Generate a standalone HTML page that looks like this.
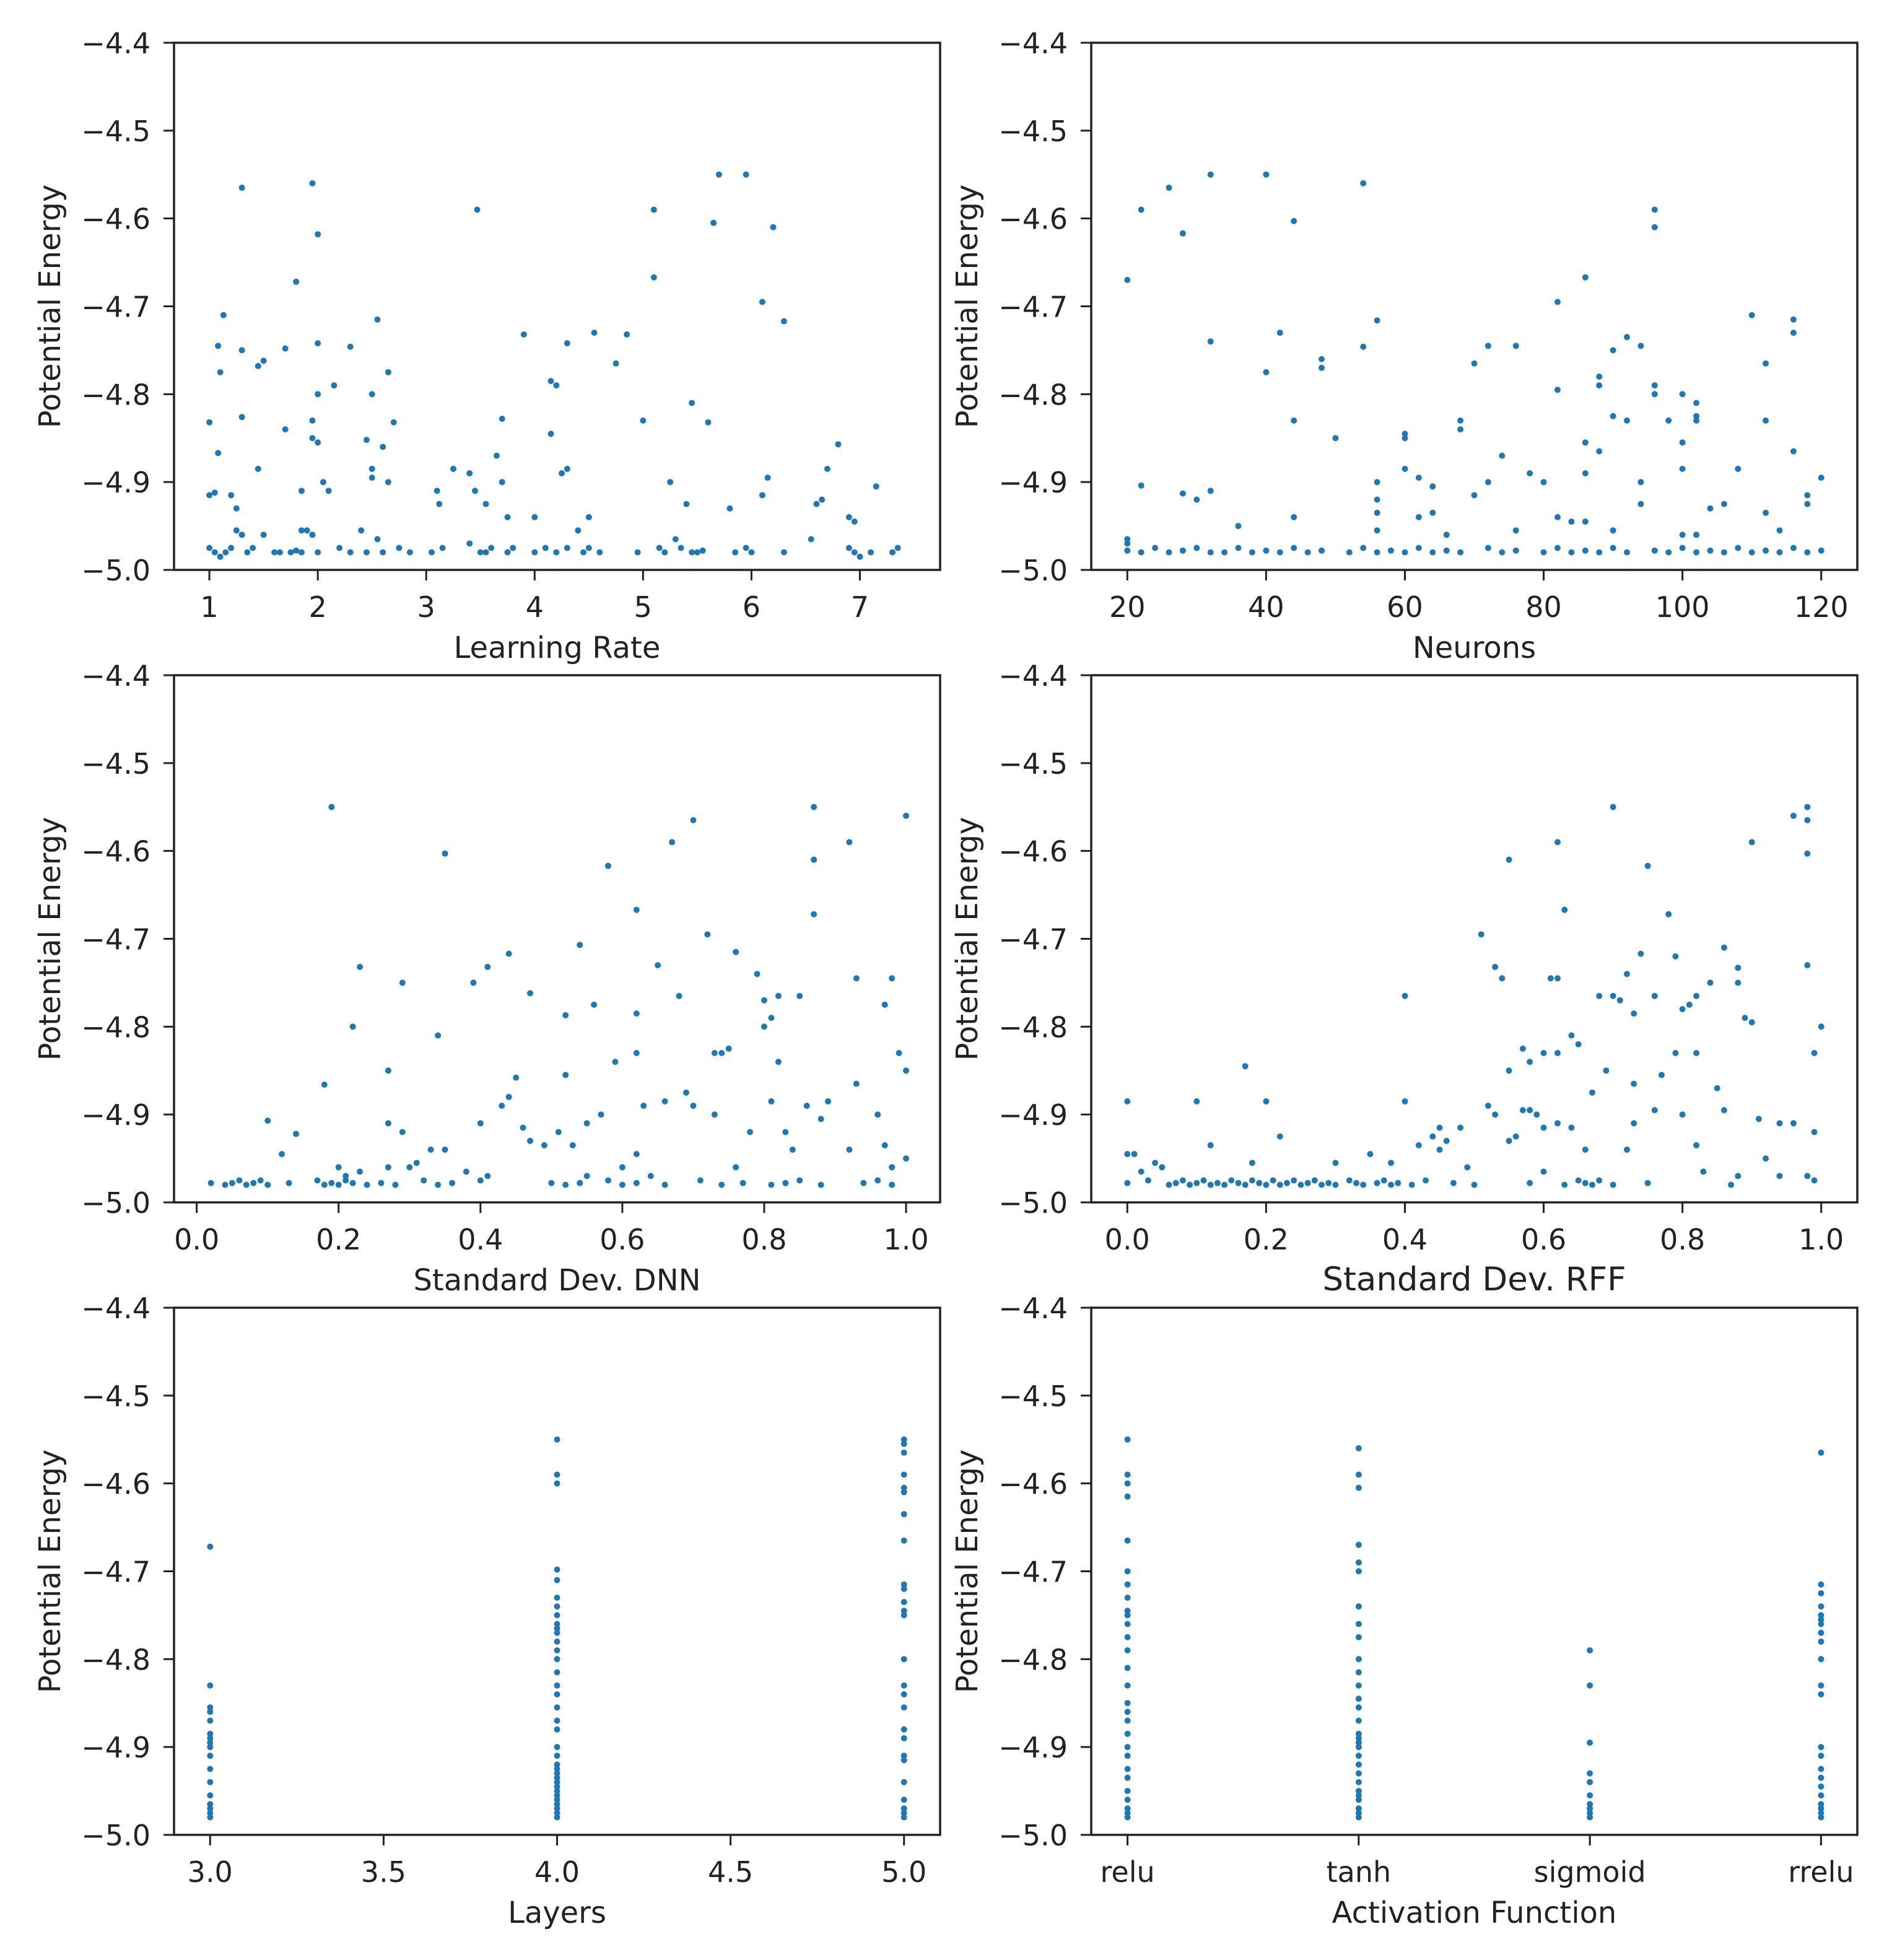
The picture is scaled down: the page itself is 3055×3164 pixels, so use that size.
<!DOCTYPE html>
<html><head><meta charset="utf-8"><title>Potential Energy vs hyperparameters</title>
<style>
html,body{margin:0;padding:0;background:#fff;}
svg{display:block;font-family:"DejaVu Sans","Liberation Sans",sans-serif;}
</style></head>
<body>
<svg id="fig" width="3055" height="3164" viewBox="0 0 3055 3164" xmlns="http://www.w3.org/2000/svg">
<rect width="3055" height="3164" fill="#fff"/>
</svg>
<script>
// ---- shared y axis ----
const yTicks = [-4.4, -4.5, -4.6, -4.7, -4.8, -4.9, -5.0];
const yTickLabels = ["\u22124.4", "\u22124.5", "\u22124.6", "\u22124.7", "\u22124.8", "\u22124.9", "\u22125.0"];

// ---- panel 1: learning rate ----
const lrTicks = [1, 2, 3, 4, 5, 6, 7];
const lrTickLabels = ["1", "2", "3", "4", "5", "6", "7"];
const lrPoints = [[1.3,-4.565],[1.95,-4.56],[2.0,-4.618],[3.47,-4.59],[5.1,-4.59],[5.7,-4.55],[5.95,-4.55],[5.65,-4.605],[6.2,-4.61],[5.1,-4.667],[1.8,-4.672],[6.1,-4.695],[6.3,-4.717],[2.55,-4.715],[1.13,-4.71],[1.08,-4.745],[1.3,-4.75],[1.45,-4.768],[1.5,-4.762],[1.7,-4.748],[2.0,-4.742],[2.3,-4.746],[2.15,-4.79],[1.1,-4.775],[2.65,-4.775],[2.5,-4.8],[2.0,-4.8],[3.9,-4.732],[4.3,-4.742],[4.55,-4.73],[4.85,-4.732],[4.75,-4.765],[4.15,-4.785],[4.2,-4.79],[1.0,-4.832],[1.3,-4.826],[1.7,-4.84],[1.95,-4.83],[1.95,-4.85],[2.0,-4.855],[2.6,-4.86],[2.7,-4.832],[3.7,-4.828],[4.15,-4.845],[5.0,-4.83],[5.45,-4.81],[5.6,-4.832],[1.08,-4.867],[2.45,-4.852],[3.65,-4.87],[4.3,-4.885],[4.25,-4.89],[6.8,-4.857],[6.7,-4.885],[1.0,-4.915],[1.05,-4.912],[1.2,-4.915],[1.25,-4.93],[1.45,-4.885],[1.85,-4.91],[2.05,-4.9],[2.1,-4.91],[2.5,-4.885],[2.5,-4.895],[2.65,-4.9],[3.1,-4.91],[3.12,-4.925],[3.25,-4.885],[3.4,-4.89],[3.45,-4.91],[3.55,-4.925],[3.7,-4.9],[3.75,-4.94],[4.0,-4.94],[4.5,-4.94],[5.25,-4.9],[5.4,-4.925],[5.8,-4.93],[6.1,-4.915],[6.15,-4.895],[6.6,-4.925],[6.65,-4.92],[6.9,-4.94],[6.95,-4.945],[7.15,-4.905],[1.25,-4.955],[1.3,-4.96],[1.5,-4.96],[1.85,-4.955],[1.9,-4.955],[1.95,-4.96],[2.4,-4.955],[2.55,-4.965],[4.4,-4.955],[5.3,-4.965],[6.55,-4.965],
[1.0,-4.975],[1.05,-4.98],[1.1,-4.985],[1.15,-4.98],[1.2,-4.975],[1.35,-4.98],[1.4,-4.975],[1.6,-4.98],[1.65,-4.98],[1.75,-4.98],[1.8,-4.978],[1.85,-4.98],[2.0,-4.98],[2.2,-4.975],[2.3,-4.98],[2.45,-4.98],[2.6,-4.98],[2.75,-4.975],[2.85,-4.98],[3.05,-4.98],[3.15,-4.975],[3.4,-4.97],[3.5,-4.98],[3.55,-4.98],[3.6,-4.975],[3.75,-4.98],[3.8,-4.975],[4.0,-4.98],[4.1,-4.975],[4.2,-4.98],[4.3,-4.975],[4.45,-4.98],[4.5,-4.975],[4.6,-4.98],[4.95,-4.98],[5.15,-4.975],[5.2,-4.98],[5.35,-4.975],[5.45,-4.98],[5.5,-4.98],[5.55,-4.978],[5.85,-4.98],[5.95,-4.975],[6.0,-4.98],[6.3,-4.98],[6.9,-4.975],[6.95,-4.98],[7.0,-4.985],[7.1,-4.98],[7.3,-4.98],[7.35,-4.975]];

// ---- panel 2: neurons ----
const nTicks = [20, 40, 60, 80, 100, 120];
const nTickLabels = ["20", "40", "60", "80", "100", "120"];
const nPoints = [[22,-4.59],[20,-4.67],[26,-4.565],[28,-4.617],[32,-4.55],[40,-4.55],[44,-4.603],[54,-4.56],[32,-4.74],[40,-4.775],[42,-4.73],[44,-4.83],[48,-4.76],[48,-4.77],[54,-4.746],[56,-4.716],[50,-4.85],[22,-4.904],[28,-4.913],[30,-4.92],[32,-4.91],[36,-4.95],[44,-4.94],[56,-4.9],[56,-4.92],[56,-4.935],[56,-4.955],[60,-4.845],[60,-4.85],[60,-4.885],[62,-4.895],[62,-4.94],[64,-4.905],[66,-4.96],[68,-4.83],[68,-4.84],[70,-4.915],[70,-4.765],[72,-4.745],[72,-4.9],[74,-4.87],[76,-4.745],[78,-4.89],[80,-4.9],[82,-4.695],[82,-4.795],[82,-4.94],[84,-4.945],[86,-4.667],[86,-4.855],[86,-4.89],[86,-4.945],[88,-4.78],[88,-4.79],[88,-4.865],[90,-4.75],[90,-4.825],[90,-4.955],[92,-4.735],[92,-4.83],[94,-4.745],[94,-4.9],[94,-4.925],[96,-4.59],[96,-4.61],[96,-4.79],[96,-4.8],[98,-4.83],[100,-4.8],[100,-4.855],[100,-4.885],[102,-4.81],[102,-4.825],[102,-4.83],[104,-4.93],[106,-4.925],[108,-4.885],[110,-4.71],[112,-4.765],[112,-4.83],[112,-4.935],[114,-4.955],[116,-4.715],[116,-4.73],[116,-4.865],[118,-4.915],[118,-4.925],[120,-4.895],[102,-4.96],[100,-4.96],[76,-4.955],[64,-4.935],[20,-4.965],[20,-4.97],
[20,-4.978],[22,-4.98],[24,-4.975],[26,-4.98],[28,-4.978],[30,-4.975],[32,-4.98],[34,-4.98],[36,-4.975],[38,-4.98],[40,-4.978],[42,-4.98],[44,-4.975],[46,-4.98],[48,-4.978],[52,-4.98],[54,-4.975],[56,-4.98],[58,-4.978],[60,-4.98],[62,-4.975],[64,-4.98],[66,-4.978],[68,-4.98],[72,-4.975],[74,-4.98],[76,-4.978],[80,-4.98],[82,-4.975],[84,-4.98],[86,-4.978],[88,-4.98],[90,-4.975],[92,-4.98],[96,-4.978],[98,-4.98],[100,-4.975],[102,-4.98],[104,-4.978],[106,-4.98],[108,-4.975],[110,-4.98],[112,-4.978],[114,-4.98],[116,-4.975],[118,-4.98],[120,-4.978]];

// ---- panel 3: std dev DNN ----
const sdTicks = [0.0, 0.2, 0.4, 0.6, 0.8, 1.0];
const sdTickLabels = ["0.0", "0.2", "0.4", "0.6", "0.8", "1.0"];
const dnnPoints = [[0.19,-4.55],[0.35,-4.603],[0.58,-4.617],[0.67,-4.59],[0.7,-4.565],[0.87,-4.55],[0.87,-4.61],[0.87,-4.672],[0.92,-4.59],[1.0,-4.56],[0.72,-4.695],[0.62,-4.667],[0.54,-4.707],[0.23,-4.732],[0.29,-4.75],[0.39,-4.75],[0.41,-4.732],[0.44,-4.717],[0.47,-4.762],[0.52,-4.787],[0.56,-4.775],[0.62,-4.785],[0.65,-4.73],[0.68,-4.765],[0.76,-4.715],[0.79,-4.74],[0.8,-4.77],[0.82,-4.765],[0.85,-4.765],[0.93,-4.745],[0.97,-4.775],[0.98,-4.745],[0.22,-4.8],[0.34,-4.81],[0.27,-4.85],[0.18,-4.866],[0.52,-4.855],[0.45,-4.858],[0.59,-4.84],[0.62,-4.83],[0.69,-4.875],[0.73,-4.83],[0.74,-4.83],[0.75,-4.825],[0.8,-4.8],[0.81,-4.79],[0.82,-4.84],[0.93,-4.865],[0.99,-4.83],[1.0,-4.85],[0.1,-4.907],[0.14,-4.922],[0.12,-4.945],[0.27,-4.91],[0.29,-4.92],[0.31,-4.955],[0.33,-4.94],[0.35,-4.94],[0.4,-4.91],[0.43,-4.89],[0.44,-4.88],[0.46,-4.915],[0.47,-4.93],[0.49,-4.935],[0.51,-4.92],[0.53,-4.935],[0.55,-4.91],[0.57,-4.9],[0.6,-4.96],[0.62,-4.945],[0.63,-4.89],[0.66,-4.885],[0.7,-4.89],[0.73,-4.9],[0.76,-4.96],[0.78,-4.92],[0.81,-4.885],[0.83,-4.92],[0.84,-4.94],[0.86,-4.89],[0.88,-4.905],[0.89,-4.885],[0.92,-4.94],[0.96,-4.9],[0.97,-4.935],[0.98,-4.96],[1.0,-4.95],[0.2,-4.96],[0.21,-4.97],[0.23,-4.965],[0.27,-4.96],[0.3,-4.96],[0.38,-4.965],[0.41,-4.97],[0.55,-4.97],[0.64,-4.97],
[0.02,-4.978],[0.04,-4.98],[0.05,-4.978],[0.06,-4.975],[0.07,-4.98],[0.08,-4.978],[0.09,-4.975],[0.1,-4.98],[0.13,-4.978],[0.17,-4.975],[0.18,-4.98],[0.19,-4.978],[0.2,-4.98],[0.21,-4.975],[0.22,-4.978],[0.24,-4.98],[0.26,-4.978],[0.28,-4.98],[0.32,-4.975],[0.34,-4.98],[0.36,-4.978],[0.4,-4.975],[0.5,-4.978],[0.52,-4.98],[0.54,-4.978],[0.58,-4.975],[0.6,-4.98],[0.62,-4.978],[0.66,-4.98],[0.71,-4.975],[0.74,-4.98],[0.77,-4.978],[0.81,-4.98],[0.83,-4.978],[0.85,-4.975],[0.88,-4.98],[0.94,-4.978],[0.96,-4.975],[0.98,-4.98]];

// ---- panel 4: std dev RFF ----
const rffPoints = [[0.7,-4.55],[0.98,-4.55],[0.96,-4.56],[0.98,-4.565],[0.98,-4.603],[0.55,-4.61],[0.62,-4.59],[0.75,-4.617],[0.9,-4.59],[0.63,-4.667],[0.78,-4.672],[0.51,-4.695],[0.86,-4.71],[0.88,-4.733],[0.98,-4.73],[0.53,-4.732],[0.54,-4.745],[0.61,-4.745],[0.62,-4.745],[0.72,-4.74],[0.74,-4.717],[0.68,-4.765],[0.7,-4.765],[0.71,-4.77],[0.73,-4.785],[0.76,-4.765],[0.79,-4.72],[0.8,-4.78],[0.81,-4.775],[0.82,-4.765],[0.84,-4.75],[0.88,-4.75],[0.89,-4.79],[0.9,-4.795],[0.4,-4.765],[1.0,-4.8],[0.99,-4.83],[0.17,-4.845],[0.45,-4.915],[0.55,-4.85],[0.57,-4.825],[0.58,-4.84],[0.6,-4.83],[0.62,-4.83],[0.64,-4.81],[0.65,-4.82],[0.67,-4.875],[0.69,-4.85],[0.73,-4.865],[0.77,-4.855],[0.79,-4.83],[0.82,-4.83],[0.85,-4.87],[0.76,-4.895],[0.8,-4.9],[0.82,-4.935],[0.86,-4.895],[0.91,-4.905],[0.94,-4.91],[0.96,-4.91],[0.99,-4.92],[0.0,-4.885],[0.1,-4.885],[0.2,-4.885],[0.0,-4.945],[0.01,-4.945],[0.12,-4.935],[0.18,-4.955],[0.22,-4.925],[0.3,-4.955],[0.35,-4.945],[0.38,-4.955],[0.4,-4.885],[0.42,-4.935],[0.44,-4.925],[0.45,-4.94],[0.46,-4.93],[0.48,-4.915],[0.49,-4.96],[0.52,-4.89],[0.53,-4.9],[0.55,-4.93],[0.56,-4.925],[0.57,-4.895],[0.58,-4.895],[0.59,-4.9],[0.6,-4.915],[0.6,-4.965],[0.62,-4.91],[0.64,-4.915],[0.65,-4.975],[0.66,-4.94],[0.72,-4.94],[0.73,-4.91],[0.83,-4.965],[0.88,-4.97],[0.92,-4.95],[0.94,-4.97],[0.98,-4.97],[0.02,-4.965],[0.04,-4.955],[0.05,-4.96],
[0.0,-4.978],[0.03,-4.975],[0.06,-4.98],[0.07,-4.978],[0.08,-4.975],[0.09,-4.98],[0.1,-4.978],[0.11,-4.975],[0.12,-4.98],[0.13,-4.978],[0.14,-4.98],[0.15,-4.975],[0.16,-4.978],[0.17,-4.98],[0.18,-4.975],[0.19,-4.978],[0.2,-4.98],[0.21,-4.975],[0.22,-4.98],[0.23,-4.978],[0.24,-4.975],[0.25,-4.98],[0.26,-4.978],[0.27,-4.975],[0.28,-4.98],[0.29,-4.978],[0.3,-4.98],[0.32,-4.975],[0.33,-4.978],[0.34,-4.98],[0.36,-4.978],[0.37,-4.975],[0.38,-4.98],[0.39,-4.978],[0.41,-4.98],[0.43,-4.975],[0.47,-4.978],[0.5,-4.98],[0.58,-4.978],[0.63,-4.98],[0.66,-4.978],[0.67,-4.98],[0.68,-4.975],[0.7,-4.98],[0.75,-4.978],[0.87,-4.98],[0.99,-4.975]];

// ---- panel 5: layers ----
const layerTicks = [3.0, 3.5, 4.0, 4.5, 5.0];
const layerTickLabels = ["3.0", "3.5", "4.0", "4.5", "5.0"];
const layers3 = [-4.672,-4.83,-4.855,-4.86,-4.87,-4.885,-4.89,-4.895,-4.9,-4.91,-4.925,-4.94,-4.955,-4.965,-4.97,-4.975,-4.98];
const layers4 = [-4.55,-4.59,-4.6,-4.698,-4.71,-4.73,-4.74,-4.75,-4.76,-4.765,-4.77,-4.78,-4.79,-4.8,-4.815,-4.83,-4.84,-4.855,-4.87,-4.88,-4.9,-4.91,-4.92,-4.925,-4.93,-4.935,-4.94,-4.945,-4.95,-4.955,-4.96,-4.965,-4.97,-4.975,-4.98];
const layers5 = [-4.55,-4.555,-4.565,-4.59,-4.605,-4.61,-4.635,-4.665,-4.715,-4.72,-4.735,-4.745,-4.75,-4.8,-4.83,-4.84,-4.855,-4.88,-4.89,-4.91,-4.915,-4.94,-4.96,-4.97,-4.975,-4.98];

// ---- panel 6: activation ----
const actCategories = ["relu", "tanh", "sigmoid", "rrelu"];
const actRelu = [-4.55,-4.59,-4.6,-4.615,-4.665,-4.7,-4.715,-4.73,-4.745,-4.75,-4.76,-4.775,-4.79,-4.81,-4.83,-4.85,-4.86,-4.87,-4.885,-4.9,-4.91,-4.925,-4.935,-4.95,-4.96,-4.97,-4.975,-4.98];
const actTanh = [-4.56,-4.59,-4.605,-4.67,-4.69,-4.7,-4.74,-4.76,-4.775,-4.8,-4.815,-4.83,-4.845,-4.855,-4.87,-4.885,-4.89,-4.895,-4.9,-4.91,-4.92,-4.93,-4.94,-4.95,-4.955,-4.96,-4.97,-4.975,-4.98];
const actSigmoid = [-4.79,-4.83,-4.895,-4.93,-4.94,-4.955,-4.965,-4.97,-4.975,-4.98];
const actRrelu = [-4.565,-4.715,-4.725,-4.74,-4.75,-4.755,-4.76,-4.77,-4.78,-4.8,-4.83,-4.84,-4.9,-4.91,-4.925,-4.935,-4.945,-4.955,-4.965,-4.97,-4.975,-4.98];

const NS = "http://www.w3.org/2000/svg";
const fig = document.getElementById("fig");
function mk(tag, attrs, parent) {
  const e = document.createElementNS(NS, tag);
  for (const k in attrs) e.setAttribute(k, attrs[k]);
  (parent || fig).appendChild(e);
  return e;
}

function panel(cfg) {
  const g = mk("g", {});
  
  
  const L = cfg.left, T = cfg.top, W = cfg.w, H = cfg.h;
  const sx = v => L + (v - cfg.xmin) / (cfg.xmax - cfg.xmin) * W;
  const sy = v => T + (-4.4 - v) / 0.6 * H;
  const pg = mk("g", {}, g);
  
  
  cfg.points.forEach(p => {
    const c = mk("circle", {cx: sx(p[0]).toFixed(1), cy: sy(p[1]).toFixed(1), r: 5, fill: "#1f77b4"}, pg);
    
    
  });
  const fr = mk("rect", {x: L, y: T, width: W, height: H, fill: "none", stroke: "#222", "stroke-width": 3.5}, g);
  
  
  yTicks.forEach((v, i) => {
    const y = sy(v);
    const t = mk("line", {x1: L - 17, x2: L, y1: y, y2: y, stroke: "#222", "stroke-width": 3}, g);
    
    
    const tx = mk("text", {x: L - 38, y: y + 17, "text-anchor": "end", "font-size": 46, fill: "#222"}, g);
    tx.textContent = yTickLabels[i];
    
    
  });
  cfg.xticks.forEach((v, i) => {
    const x = sx(v);
    const t = mk("line", {x1: x, x2: x, y1: T + H, y2: T + H + 17, stroke: "#222", "stroke-width": 3}, g);
    
    
    const tx = mk("text", {x: x, y: T + H + 76, "text-anchor": "middle", "font-size": 46, fill: "#222"}, g);
    tx.textContent = cfg.xlabels[i];
    
    
  });
  const xl = mk("text", {x: L + W / 2, y: T + H + 142, "text-anchor": "middle", "font-size": cfg.xfs || 48, fill: "#222"}, g);
  xl.textContent = cfg.xtitle;
  
  
  const yc = T + H / 2, xc = L - 184;
  const yl = mk("text", {x: xc, y: yc, "text-anchor": "middle", "font-size": 48, fill: "#222", transform: `rotate(-90 ${xc} ${yc})`}, g);
  yl.textContent = "Potential Energy";
  
  
}

const colL = 281, colR = 1762, PW = 1237, PH = 851;
const rows = [69, 1090, 2111];

function stack(xv, arr) { return arr.map(v => [xv, v]); }

panel({name: "learning-rate-panel", left: colL, top: rows[0], w: PW, h: PH, xmin: 0.674, xmax: 7.74,
  xticks: lrTicks, xlabels: lrTickLabels, xtitle: "Learning Rate", points: lrPoints});
panel({name: "neurons-panel", left: colR, top: rows[0], w: PW, h: PH, xmin: 14.8, xmax: 125.2,
  xticks: nTicks, xlabels: nTickLabels, xtitle: "Neurons", points: nPoints});
panel({name: "std-dnn-panel", left: colL, top: rows[1], w: PW, h: PH, xmin: -0.032, xmax: 1.048,
  xticks: sdTicks, xlabels: sdTickLabels, xtitle: "Standard Dev. DNN", points: dnnPoints});
panel({name: "std-rff-panel", left: colR, top: rows[1], w: PW, h: PH, xmin: -0.052, xmax: 1.052,
  xticks: sdTicks, xlabels: sdTickLabels, xtitle: "Standard Dev. RFF", xfs: 53, points: rffPoints});
panel({name: "layers-panel", left: colL, top: rows[2], w: PW, h: PH, xmin: 2.896, xmax: 5.104,
  xticks: layerTicks, xlabels: layerTickLabels, xtitle: "Layers",
  points: stack(3, layers3).concat(stack(4, layers4), stack(5, layers5))});
panel({name: "activation-panel", left: colR, top: rows[2], w: PW, h: PH, xmin: -0.157, xmax: 3.157,
  xticks: [0, 1, 2, 3], xlabels: actCategories, xtitle: "Activation Function",
  points: stack(0, actRelu).concat(stack(1, actTanh), stack(2, actSigmoid), stack(3, actRrelu))});
</script>
</body></html>
